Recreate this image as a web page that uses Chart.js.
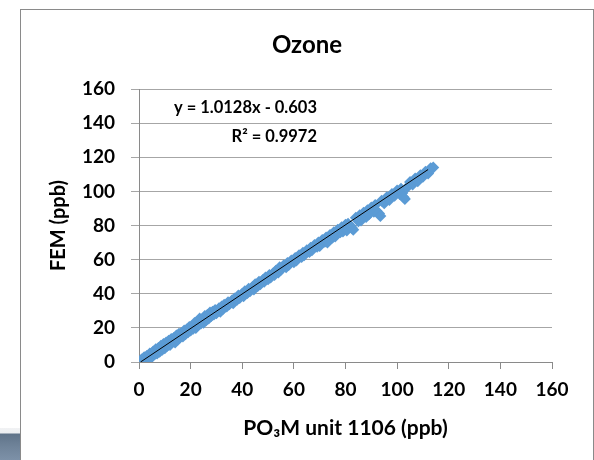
<!DOCTYPE html>
<html>
<head>
<meta charset="utf-8">
<script src="https://cdn.jsdelivr.net/npm/chart.js@4.4.1/dist/chart.umd.min.js"></script>
<style>
  html, body { margin: 0; padding: 0; background: #fff; }
  #wrap { position: relative; width: 594px; height: 460px; overflow: hidden; }
  #frame { position: absolute; left: 20px; top: 9px; width: 572px; height: 460px;
           border: 1px solid #8a8a8a; border-bottom: none; }
  #corner { position: absolute; left: 0; top: 428px; width: 20px; height: 32px;
            background: linear-gradient(#f1f2f4 0px, #eceef1 5px, #5f7389 6px, #6f8399 18px, #7d91a8 32px); }
  canvas { position: absolute; left: 0; top: 0; }
</style>
</head>
<body>
<div id="wrap">
  <div id="corner"></div>
  <div id="frame"></div>
  <canvas id="scatterChart" width="594" height="460"></canvas>
</div>
<script>
// PO3M unit 1106 (x) vs FEM (y), ppb
const po3mValues = [0.5, 1, 1.5, 2, 2.5, 3, 3.2, 3.8, 4.2, 4.5, 5, 5.5, 6, 6.5, 7, 7.5, 8, 8.5, 9, 9.5,
  10, 10.5, 11, 11.5, 12, 12.5, 13, 13.5, 14, 14.5, 15, 15.5, 16, 16.5, 17, 17.5, 18, 18.5, 19, 19.5,
  20, 20.5, 21, 21.5, 22, 22.5, 23, 23.5, 24, 24.5, 25, 25.5, 26, 26.5, 27, 27.5, 28, 28.5, 29, 29.5,
  30, 31, 31.5, 32, 32.5, 33, 34, 34.5, 35, 36, 36.5, 37, 38, 38.5, 39, 40, 40.5, 41, 42, 42.5,
  43, 44, 44.5, 45, 46, 46.5, 47, 48, 48.5, 49, 50, 50.5, 51, 52, 52.5, 53, 54, 54.5, 55, 56,
  57, 57.5, 58, 59, 60, 60.5, 61, 62, 63, 63.5, 64, 65, 66, 66.5, 67, 68, 69, 69.5, 70, 71,
  72, 72.5, 73, 74, 75, 75.5, 76, 77, 78, 78.5, 79, 80, 80.5, 81, 82, 82.5, 83, 84, 85, 85.5,
  86, 87, 88, 88.5, 89, 90, 91, 91.5, 92, 93, 93.5, 94, 95, 96, 97, 98, 99, 100, 101, 101.5,
  102, 102.5, 103, 104, 105, 106, 107, 108, 109, 110, 111, 112, 113, 114];
const femValues = [0.2, 1.5, 0.3, 2.8, 1.0, 3.5, 1.2, 2.0, 5.0, 2.5, 3.0, 6.2, 4.5, 7.5, 5.0, 8.2, 6.0, 9.5, 7.2, 10.5,
  8.0, 11.5, 9.5, 12.5, 10.0, 13.5, 12.0, 14.0, 11.5, 15.5, 13.0, 16.5, 14.5, 17.0, 15.0, 18.5, 16.2, 19.0, 17.5, 20.5,
  18.5, 21.0, 19.5, 22.8, 20.0, 23.5, 21.8, 25.5, 22.5, 25.0, 23.0, 27.0, 24.5, 27.5, 25.5, 29.0, 27.0, 29.5, 27.8, 30.5,
  28.5, 31.5, 29.5, 32.5, 31.0, 33.5, 32.5, 35.0, 33.8, 36.0, 34.5, 37.2, 36.5, 39.0, 37.5, 40.0, 38.5, 41.5, 40.5, 43.0,
  41.5, 44.0, 42.5, 45.5, 44.5, 47.0, 45.5, 48.0, 47.0, 49.5, 48.5, 51.0, 49.5, 52.0, 51.0, 53.5, 52.5, 55.5, 54.0, 56.5,
  55.5, 58.0, 56.8, 59.5, 58.5, 61.0, 59.5, 62.5, 61.5, 64.0, 62.5, 65.5, 64.5, 67.0, 65.5, 68.5, 67.5, 70.0, 68.0, 71.5,
  70.5, 73.0, 70.0, 74.5, 73.0, 76.0, 73.5, 77.5, 76.0, 79.0, 76.5, 80.5, 77.0, 81.0, 79.5, 78.5, 77.5, 84.5, 82.5, 86.0,
  83.0, 87.5, 85.0, 89.0, 86.5, 90.5, 88.0, 92.0, 88.5, 87.0, 85.5, 94.5, 93.0, 96.5, 95.0, 98.5, 97.5, 100.5, 98.5, 101.5,
  99.0, 96.5, 95.5, 102.5, 105.5, 104.0, 107.5, 106.0, 109.5, 108.5, 111.5, 110.5, 113.5, 114.0];

// linear fit line shown in the chart
const trendX = [0.6, 112];
const trendY = [0, 112.8];
const eqLines = ['y = 1.0128x - 0.603', 'R² = 0.9972'];

const axisTicks = [0, 20, 40, 60, 80, 100, 120, 140, 160];

const FONT = 'Lato';

const points = po3mValues.map((x, i) => ({ x: x, y: femValues[i] }));
const trend = trendX.map((x, i) => ({ x: x, y: trendY[i] }));

// chart title + trendline label (drawn as canvas text)
const textPlugin = {
  id: 'texts',
  afterDraw(chart) {
    const ctx = chart.ctx;
    ctx.save();
    ctx.fillStyle = '#000';
    ctx.textBaseline = 'middle';
    ctx.textAlign = 'center';
    ctx.font = 'bold 24px ' + FONT;
    ctx.fillText('Ozone', 307, 45);
    ctx.textAlign = 'right';
    ctx.font = 'bold 16.5px ' + FONT;
    ctx.fillText(eqLines[0], 317, 108);
    ctx.fillText(eqLines[1], 317, 137);
    ctx.restore();
  }
};

const ctx = document.getElementById('scatterChart').getContext('2d');

const scatterChart = new Chart(ctx, {
  type: 'scatter',
  data: {
    datasets: [{
      label: 'Linear (FEM)',
      type: 'line',
      data: trend,
      borderColor: '#000',
      borderWidth: 1,
      pointRadius: 0,
      fill: false,
      order: 0
    }, {
      label: 'FEM',
      data: points,
      pointStyle: 'rectRot',
      pointRadius: 6,
      backgroundColor: '#5B9BD5',
      borderColor: '#5B9BD5',
      borderWidth: 0,
      order: 1
    }]
  },
  options: {
    responsive: false,
    animation: false,
    layout: { padding: { left: 0, right: 42, top: 89, bottom: 0 } },
    plugins: {
      legend: { display: false },
      title: { display: false },
      tooltip: { enabled: false }
    },
    scales: {
      x: {
        type: 'linear',
        min: 0,
        max: 160,
        afterBuildTicks: (scale) => { scale.ticks = axisTicks.map(v => ({ value: v })); },
        afterFit: (scale) => { scale.height = 98; },
        ticks: { color: '#000', padding: 9, font: { family: FONT, size: 19, weight: 'bold' } },
        grid: { drawOnChartArea: false, drawTicks: true, tickLength: 7, color: '#8a8a8a' },
        border: { color: '#8a8a8a', width: 1 },
        title: {
          display: true,
          text: 'PO₃M unit 1106 (ppb)',
          color: '#000',
          font: { family: FONT, size: 21, weight: 'bold' },
          padding: { top: 0, bottom: 19 }
        }
      },
      y: {
        min: 0,
        max: 160,
        afterBuildTicks: (scale) => { scale.ticks = axisTicks.map(v => ({ value: v })); },
        afterFit: (scale) => { scale.width = 139; },
        ticks: { color: '#000', padding: 16, font: { family: FONT, size: 19, weight: 'bold' } },
        grid: { color: '#a6a6a6', tickLength: 8 },
        border: { color: '#8a8a8a', width: 1 },
        title: {
          display: true,
          text: 'FEM (ppb)',
          color: '#000',
          font: { family: FONT, size: 20, weight: 'bold' },
          padding: { top: 47, bottom: 0 }
        }
      }
    }
  },
  plugins: [textPlugin]
});
</script>
</body>
</html>
